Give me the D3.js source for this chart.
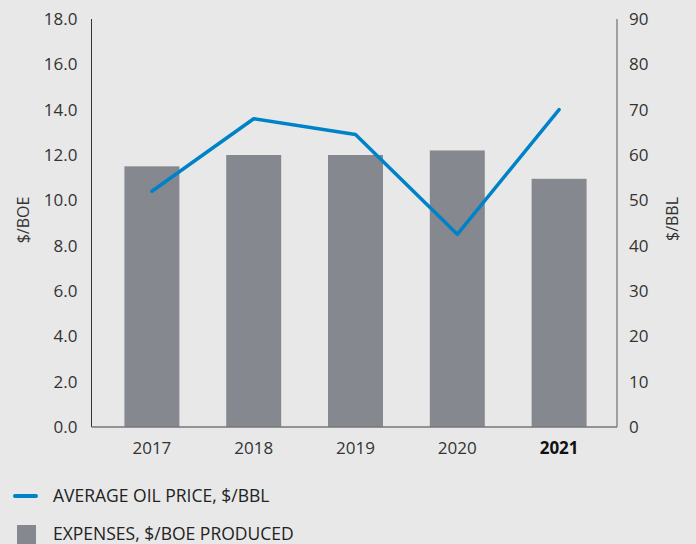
<!DOCTYPE html>
<html>
<head>
<meta charset="utf-8">
<script src="https://cdn.jsdelivr.net/npm/d3@7"></script>
<style>
  body { margin: 0; background: #e8e8e8; }
  svg { display: block; font-family: "Open Sans", sans-serif; }
</style>
</head>
<body>
<div id="chart"></div>
<script>
// data
var years = ["2017", "2018", "2019", "2020", "2021"];
var expenses = [11.5, 12.0, 12.0, 12.2, 10.95];  // $/BOE, bars
var oilPrice = [52, 68, 64.5, 42.5, 70];          // $/BBL, line
var leftTicks = [0, 2, 4, 6, 8, 10, 12, 14, 16, 18];
var rightTicks = [0, 10, 20, 30, 40, 50, 60, 70, 80, 90];

var width = 696, height = 544;
var plotL = 91.5, plotR = 617, plotT = 19, plotB = 427;

var svg = d3.select("#chart").append("svg")
    .attr("width", width).attr("height", height);

svg.append("rect").attr("width", width).attr("height", height).attr("fill", "#e8e8e8");

var x = d3.scaleBand()
    .domain(years)
    .range([101, 610])
    .paddingInner(0.46)
    .paddingOuter(0.23);

var yL = d3.scaleLinear().domain([0, 18]).range([plotB, plotT]);
var yR = d3.scaleLinear().domain([0, 90]).range([plotB, plotT]);

// bars
svg.append("g").selectAll("rect")
  .data(expenses)
  .enter().append("rect")
    .attr("x", function(d, i) { return x(years[i]); })
    .attr("width", x.bandwidth())
    .attr("y", function(d) { return yL(d); })
    .attr("height", function(d) { return yL(0) - yL(d); })
    .attr("fill", "#85888e");

// axis lines
svg.append("line").attr("x1", plotL).attr("x2", plotL).attr("y1", plotT).attr("y2", plotB)
    .attr("stroke", "#333").attr("stroke-width", 1);
svg.append("line").attr("x1", plotR).attr("x2", plotR).attr("y1", plotT).attr("y2", plotB)
    .attr("stroke", "#888").attr("stroke-width", 1.5);
svg.append("line").attr("x1", plotL).attr("x2", plotR).attr("y1", plotB).attr("y2", plotB)
    .attr("stroke", "#777").attr("stroke-width", 1.5);

// left axis
var gl = svg.append("g")
    .attr("transform", "translate(" + (plotL - 14) + ",0)")
    .call(d3.axisLeft(yL).tickValues(leftTicks).tickSize(0).tickPadding(0)
      .tickFormat(d3.format(".1f")));
gl.select(".domain").remove();
gl.selectAll("text").attr("font-size", 17).attr("fill", "#333")
    .attr("font-family", "'Open Sans', sans-serif");

// right axis
var gr = svg.append("g")
    .attr("transform", "translate(" + (plotR + 12) + ",0)")
    .call(d3.axisRight(yR).tickValues(rightTicks).tickSize(0).tickPadding(0));
gr.select(".domain").remove();
gr.selectAll("text").attr("font-size", 17).attr("fill", "#333")
    .attr("font-family", "'Open Sans', sans-serif");

// x axis
var gx = svg.append("g")
    .attr("transform", "translate(0," + (plotB + 15) + ")")
    .call(d3.axisBottom(x).tickSize(0).tickPadding(0));
gx.select(".domain").remove();
gx.selectAll("text").attr("font-size", 17)
    .attr("font-family", "'Open Sans', sans-serif")
    .attr("font-weight", function(d) { return d === "2021" ? "bold" : null; })
    .attr("fill", function(d) { return d === "2021" ? "#111" : "#333"; });

// axis titles
svg.append("text")
    .attr("transform", "translate(29,220) rotate(-90)")
    .attr("text-anchor", "middle")
    .attr("font-size", 16).attr("fill", "#333")
    .text("$/BOE");
svg.append("text")
    .attr("transform", "translate(678,219) rotate(-90)")
    .attr("text-anchor", "middle")
    .attr("font-size", 16).attr("fill", "#333")
    .text("$/BBL");

// oil price line
var line = d3.line()
    .x(function(d, i) { return x(years[i]) + x.bandwidth() / 2; })
    .y(function(d) { return yR(d); });

svg.append("path")
    .datum(oilPrice)
    .attr("d", line)
    .attr("fill", "none")
    .attr("stroke", "#0082c8")
    .attr("stroke-width", 3.5)
    .attr("stroke-linecap", "round")
    .attr("stroke-linejoin", "round");

// legend
var legend = svg.append("g");
legend.append("line")
    .attr("x1", 15).attr("x2", 36).attr("y1", 496).attr("y2", 496)
    .attr("stroke", "#0082c8").attr("stroke-width", 4).attr("stroke-linecap", "round");
legend.append("text")
    .attr("x", 53).attr("y", 496).attr("dy", "0.35em")
    .attr("font-size", 17.5).attr("fill", "#222")
    .text("AVERAGE OIL PRICE, $/BBL");
legend.append("rect")
    .attr("x", 17).attr("y", 525).attr("width", 19).attr("height", 19)
    .attr("fill", "#85888e");
legend.append("text")
    .attr("x", 53).attr("y", 534).attr("dy", "0.35em")
    .attr("font-size", 17.5).attr("fill", "#222")
    .text("EXPENSES, $/BOE PRODUCED");
</script>
</body>
</html>
